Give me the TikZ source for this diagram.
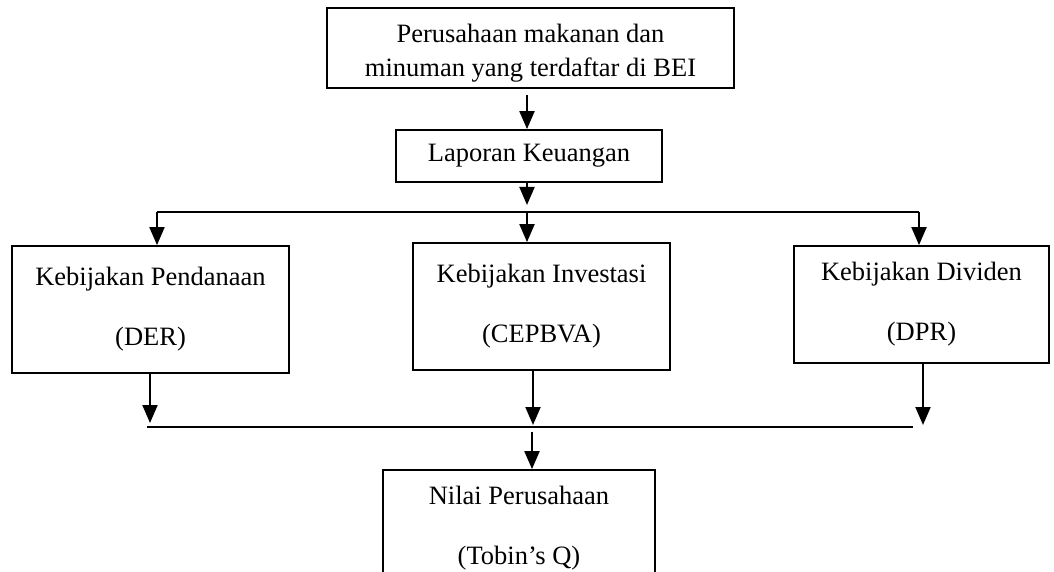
\documentclass[tikz,border=0pt]{standalone}
\usepackage{fontspec}
\setmainfont{Liberation Serif}
\usetikzlibrary{arrows.meta,calc}
\begin{document}
\begin{tikzpicture}[x=1pt,y=-1pt,
  box/.style={draw,line width=1.8pt,inner sep=0pt,align=center,font=\fontsize{26.5}{60}\selectfont},
  arr/.style={line width=2pt,-{Triangle[width=15pt,length=18pt]}},
  ln/.style={line width=2pt}]
\useasboundingbox (0,0) rectangle (1054,572);
\fill[white] (0,0) rectangle (1054,572);
% boxes
\node[box,minimum width=407,minimum height=80,font=\fontsize{26.5}{34}\selectfont] (top) at (530.5,48) {\raisebox{-5pt}[\height][\depth]{\begin{tabular}{@{}c@{}}Perusahaan makanan dan\\minuman yang terdaftar di BEI\end{tabular}}};
\node[box,minimum width=266,minimum height=52,font=\fontsize{26.5}{32}\selectfont] (lap) at (529,156) {Laporan Keuangan};
\node[box,minimum width=277,minimum height=127] (fin) at (150.5,309.5) {Kebijakan Pendanaan\\(DER)};
\node[box,minimum width=257,minimum height=127] (inv) at (541.5,306.5) {Kebijakan Investasi\\(CEPBVA)};
\node[box,minimum width=255,minimum height=117] (div) at (921.5,304.5) {Kebijakan Dividen\\(DPR)};
\node[box,minimum width=272,minimum height=116] (nil) at (519,528) {Nilai Perusahaan\\(Tobin’s Q)};
% coordinates
\coordinate (a1) at (527,95);
\coordinate (dtip) at (527,205);
\coordinate (dl) at (157,212);
\coordinate (dm) at (527,212);
\coordinate (dr) at (919,212);
\coordinate (bl) at (147,427);
\coordinate (br) at (913,427);
\coordinate (t1) at (150,423);
\coordinate (t2) at (533,425);
\coordinate (t3) at (923,425);
\coordinate (a2) at (532,432);
% connectors
\draw[arr] (a1) -- (a1 |- lap.north);
\draw[arr] (a1 |- lap.south) -- (dtip);
\draw[ln] (dl) -- (dr);
\draw[arr] (dl) -- (dl |- fin.north);
\draw[arr] (dm) -- (dm |- inv.north);
\draw[arr] (dr) -- (dr |- div.north);
\draw[arr] (t1 |- fin.south) -- (t1);
\draw[arr] (t2 |- inv.south) -- (t2);
\draw[arr] (t3 |- div.south) -- (t3);
\draw[ln] (bl) -- (br);
\draw[arr] (a2) -- (a2 |- nil.north);
\end{tikzpicture}
\end{document}
